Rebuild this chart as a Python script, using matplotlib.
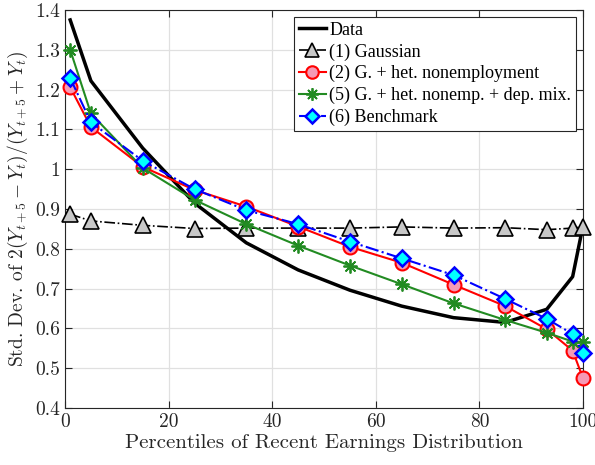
import matplotlib.pyplot as plt

plt.rcParams['font.family'] = ['cmr10', 'DejaVu Serif']
plt.rcParams['mathtext.fontset'] = 'cm'
plt.rcParams['axes.unicode_minus'] = False

pct = [1, 5, 15, 25, 35, 45, 55, 65, 75, 85, 93, 98, 100]

data = [1.375, 1.222, 1.053, 0.915, 0.815, 0.747, 0.696, 0.656, 0.627, 0.615, 0.648, 0.730, 0.858]
gaussian = [0.887, 0.870, 0.859, 0.851, 0.852, 0.852, 0.852, 0.855, 0.852, 0.853, 0.848, 0.852, 0.855]
het_nonemp = [1.206, 1.106, 1.006, 0.948, 0.906, 0.856, 0.805, 0.765, 0.710, 0.656, 0.598, 0.544, 0.475]
dep_mix = [1.300, 1.140, 1.003, 0.923, 0.862, 0.808, 0.758, 0.711, 0.663, 0.621, 0.589, 0.567, 0.566]
benchmark = [1.229, 1.118, 1.021, 0.950, 0.897, 0.862, 0.818, 0.776, 0.734, 0.674, 0.624, 0.586, 0.538]

xticks = [0, 20, 40, 60, 80, 100]
yticks = [0.4, 0.5, 0.6, 0.7, 0.8, 0.9, 1.0, 1.1, 1.2, 1.3, 1.4]
ytick_labels = ['0.4', '0.5', '0.6', '0.7', '0.8', '0.9', '1', '1.1', '1.2', '1.3', '1.4']

dark = '#262626'

fig = plt.figure(figsize=(5.95, 4.65), dpi=100)
ax = fig.add_axes([65 / 595, 57 / 465, 518 / 595, 398 / 465])

ax.plot(pct, data, color='black', lw=2.5, label='Data', zorder=3, clip_on=False)
ax.plot(pct, gaussian, color='black', ls='-.', lw=1.2, marker='^', ms=11,
        mfc='#c8c8c8', mec='black', mew=1.2, label='(1) Gaussian', zorder=4, clip_on=False)
ax.plot(pct, het_nonemp, color='red', lw=1.5, marker='o', ms=10,
        mfc='#f59ab5', mec='red', mew=1.5, label='(2) G. + het. nonemployment', zorder=5, clip_on=False)
ax.plot(pct, dep_mix, color='#228b22', lw=1.5, marker=(8, 2, 0), ms=10,
        mfc='#228b22', mec='#228b22', mew=1.3, label='(5) G. + het. nonemp. + dep. mix.', zorder=6,
        clip_on=False)
ax.plot(pct, benchmark, color='blue', ls='-.', lw=1.5, marker='D', ms=8,
        mfc='cyan', mec='blue', mew=1.8, label='(6) Benchmark', zorder=7, clip_on=False)

ax.set_xlim(0, 100)
ax.set_ylim(0.4, 1.4)
ax.set_xticks(xticks)
ax.set_yticks(yticks)
ax.set_yticklabels(ytick_labels)
ax.tick_params(direction='in', top=True, right=True, labelsize=14, length=5, width=0.8,
               colors=dark, labelcolor=dark)
ax.grid(True, color='#e0e0e0', lw=0.9)
ax.set_axisbelow(True)
for sp in ax.spines.values():
    sp.set_linewidth(0.8)
    sp.set_color(dark)

ax.set_xlabel('Percentiles of Recent Earnings Distribution', fontsize=15, labelpad=2, color=dark)
ax.set_ylabel(r'Std. Dev. of $2(Y_{t+5}-Y_t)/(Y_{t+5}+Y_t)$', fontsize=14, labelpad=4, color=dark)

leg = ax.legend(loc='upper right', handlelength=1.5, handletextpad=0.2,
                borderpad=0.25, labelspacing=0.25, fancybox=False, framealpha=1,
                borderaxespad=0.4, markerscale=0.9,
                prop={'family': ['Liberation Serif', 'DejaVu Serif'], 'size': 13})
leg.get_frame().set_edgecolor(dark)
leg.get_frame().set_linewidth(0.8)

fig.savefig('out.png', dpi=100)
